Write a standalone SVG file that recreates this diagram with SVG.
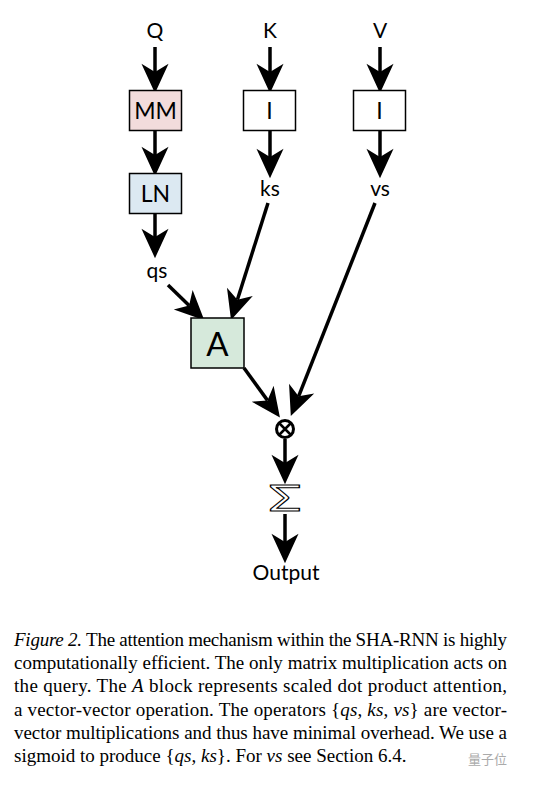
<svg xmlns="http://www.w3.org/2000/svg" width="545" height="790" viewBox="0 0 545 790">
<style>
.lbl{font-family:Lato,"Open Sans",sans-serif;font-size:21px;fill:#000;text-anchor:middle}
.box{stroke:#000;stroke-width:1.5}
.bl{font-family:Lato,"Open Sans",sans-serif;font-size:23px;fill:#000;text-anchor:middle}
.edge{stroke:#000;stroke-width:3.5;fill:none;marker-end:url(#ah)}
.cap{font-family:"Liberation Serif","Times New Roman",serif;font-size:19px;fill:#000}
.m{font-style:italic}
</style>
<defs>
<marker id="ah" markerUnits="userSpaceOnUse" markerWidth="40" markerHeight="40" viewBox="-12 -14 34 28" refX="0" refY="0" orient="auto">
<path d="M18,0 L-7,-11.5 L0,0 L-7,11.5 Z" fill="#000"/>
</marker>
</defs>
<rect width="545" height="790" fill="#fff"/>
<g id="connectors">
<line class="edge" x1="155" y1="47" x2="155" y2="72"/>
<line class="edge" x1="270" y1="47" x2="270" y2="72"/>
<line class="edge" x1="380" y1="47" x2="380" y2="72"/>
<line class="edge" x1="155" y1="131" x2="155" y2="155"/>
<line class="edge" x1="270" y1="131" x2="270" y2="157"/>
<line class="edge" x1="380" y1="131" x2="380" y2="157"/>
<line class="edge" x1="155" y1="214" x2="155" y2="237"/>
<line class="edge" x1="168" y1="285" x2="189.1" y2="305.5"/>
<line class="edge" x1="268" y1="203" x2="237.4" y2="299.8"/>
<line class="edge" x1="244" y1="368" x2="267.5" y2="400.4"/>
<line class="edge" x1="375" y1="203" x2="298.6" y2="396.3"/>
<line class="edge" x1="285" y1="439" x2="285" y2="463"/>
<line class="edge" x1="285" y1="514" x2="285" y2="542"/>
</g>
<g id="Q"><text class="lbl" x="155" y="38">Q</text></g>
<g id="K"><text class="lbl" x="270" y="38">K</text></g>
<g id="V"><text class="lbl" x="380" y="38">V</text></g>
<g id="MM"><rect class="box" x="129.5" y="90.5" width="52" height="40" fill="#f2dcdc"/><text class="bl" x="155.5" y="119">MM</text></g>
<g id="IK"><rect class="box" x="243.5" y="90.5" width="52" height="40" fill="#fff"/><text class="bl" x="269.5" y="119">I</text></g>
<g id="IV"><rect class="box" x="353.5" y="90.5" width="52" height="40" fill="#fff"/><text class="bl" x="379.5" y="119">I</text></g>
<g id="LN"><rect class="box" x="129.5" y="173.5" width="52" height="40" fill="#dce9f2"/><text class="bl" x="155.5" y="202">LN</text></g>
<g id="ks"><text class="lbl" x="270" y="196">ks</text></g>
<g id="vs"><text class="lbl" x="380" y="196">vs</text></g>
<g id="qs"><text class="lbl" x="157" y="278">qs</text></g>
<g id="A"><rect class="box" x="191" y="318" width="53" height="50" fill="#d6e9db"/><text class="bl" x="217.5" y="356" style="font-size:33px">A</text></g>
<g id="mult"><circle cx="285" cy="429" r="8.5" fill="#fff" stroke="#000" stroke-width="3"/><path d="M279.5,423.5 L290.5,434.5 M290.5,423.5 L279.5,434.5" stroke="#000" stroke-width="2.5"/></g>
<g id="sum"><text x="0" y="0" text-anchor="middle" transform="translate(285,511) scale(1.45,1)" style="font-family:Lato,sans-serif;font-size:37px;fill:#fff;stroke:#000;stroke-width:1">Σ</text></g>
<g id="Output"><text class="lbl" x="286" y="580">Output</text></g>
<g id="caption">
<text class="cap" x="14" y="646" textLength="493" lengthAdjust="spacing"><tspan class="m">Figure 2.</tspan> The attention mechanism within the SHA-RNN is highly</text>
<text class="cap" x="14" y="669" textLength="493" lengthAdjust="spacing">computationally efficient. The only matrix multiplication acts on</text>
<text class="cap" x="14" y="692" textLength="493" lengthAdjust="spacing">the query.  The <tspan class="m">A</tspan> block represents scaled dot product attention,</text>
<text class="cap" x="14" y="716" textLength="493" lengthAdjust="spacing">a vector-vector operation. The operators {<tspan class="m">qs</tspan>, <tspan class="m">ks</tspan>, <tspan class="m">vs</tspan>} are vector-</text>
<text class="cap" x="14" y="739" textLength="493" lengthAdjust="spacing">vector multiplications and thus have minimal overhead. We use a</text>
<text class="cap" x="14" y="762">sigmoid to produce {<tspan class="m">qs</tspan>, <tspan class="m">ks</tspan>}. For <tspan class="m">vs</tspan> see Section 6.4.</text>
<text x="507" y="764" text-anchor="end" style="font-family:'Noto Sans CJK SC',sans-serif;font-size:13px;fill:#aaa">量子位</text>
</g>
</svg>
